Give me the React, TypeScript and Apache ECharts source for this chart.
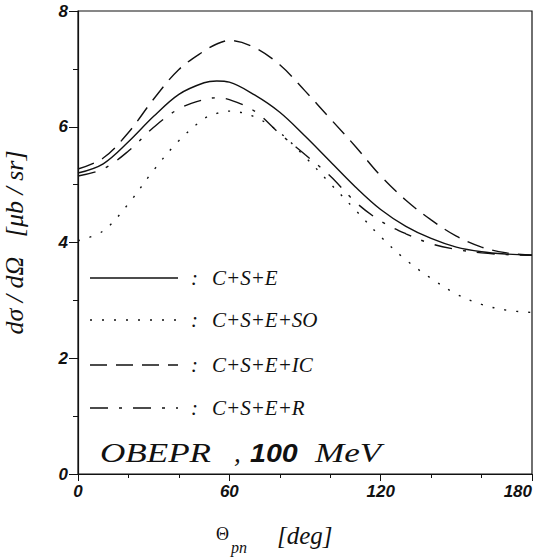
import React, { useEffect, useRef } from "react";
import * as echarts from "echarts";

const angles = [0, 10, 20, 30, 40, 50, 55, 60, 70, 80, 90, 100, 110, 120, 130, 140, 150, 160, 170, 180];
const cse = [5.2, 5.36, 5.74, 6.18, 6.56, 6.76, 6.79, 6.77, 6.55, 6.25, 5.84, 5.4, 4.96, 4.57, 4.28, 4.07, 3.92, 3.84, 3.8, 3.78];
const cseSO = [4.03, 4.2, 4.67, 5.25, 5.76, 6.14, 6.23, 6.27, 6.17, 5.9, 5.48, 5.02, 4.56, 4.1, 3.7, 3.38, 3.11, 2.93, 2.83, 2.79];
const cseIC = [5.27, 5.46, 5.9, 6.48, 6.99, 7.31, 7.43, 7.49, 7.37, 7.07, 6.62, 6.14, 5.66, 5.15, 4.73, 4.39, 4.11, 3.92, 3.82, 3.78];
const cseR = [5.15, 5.27, 5.58, 5.99, 6.31, 6.47, 6.5, 6.47, 6.27, 5.88, 5.52, 5.15, 4.7, 4.37, 4.15, 3.98, 3.88, 3.82, 3.79, 3.78];

const seriesNames = ["C+S+E", "C+S+E+SO", "C+S+E+IC", "C+S+E+R"];
const seriesValues = [cse, cseSO, cseIC, cseR];
const dashes: (string | number[])[] = ["solid", [2, 10], [17, 9], [18, 11, 3, 11]];

const xTicks = [0, 60, 120, 180];
const yTicks = [0, 2, 4, 6, 8];

const INK = "#111";
const SERIF = "Liberation Serif";
const SANS = "Liberation Sans";

function txt(x: number, y: number, text: string, size: number, opts: any = {}) {
  return {
    type: "text",
    x,
    y,
    scaleX: opts.scaleX ?? 1,
    style: {
      text,
      fill: INK,
      fontFamily: opts.family ?? SERIF,
      fontStyle: opts.style ?? "italic",
      fontWeight: opts.weight ?? "normal",
      fontSize: size,
      verticalAlign: "middle",
      align: "left",
    },
  };
}

export default function App() {
  const ref = useRef<HTMLDivElement>(null);
  useEffect(() => {
    if (!ref.current) return;
    const chart = echarts.init(ref.current, undefined, { renderer: "svg" });
    const legendRows = [278, 320, 365, 408];
    const graphic: any[] = [];
    seriesNames.forEach((name, i) => {
      graphic.push({
        type: "line",
        shape: { x1: 90, y1: legendRows[i], x2: 178, y2: legendRows[i] },
        style: { stroke: INK, lineWidth: 1.4, lineDash: dashes[i] === "solid" ? null : dashes[i] },
      });
      graphic.push(txt(191, legendRows[i], ":", 21));
      graphic.push(txt(212, legendRows[i], name, 21));
    });
    graphic.push(
      txt(100, 453, "OBEPR", 27, { scaleX: 1.3 }),
      txt(234, 453, ",", 27),
      txt(250, 453, "100", 26, { family: SANS, weight: "bold", scaleX: 1.1 }),
      txt(315, 453, "MeV", 27, { scaleX: 1.3 }),
      txt(216, 534, "Θ", 18, { style: "normal" }),
      txt(231, 547, "pn", 16),
      txt(277, 535, "[deg]", 25)
    );

    chart.setOption({
      animation: false,
      backgroundColor: "#fff",
      grid: {
        left: 78,
        right: 12,
        top: 11,
        bottom: 85,
        show: true,
        borderColor: INK,
        borderWidth: 1.2,
        outerBoundsMode: "none",
        containLabel: false,
      },
      xAxis: {
        type: "value",
        min: xTicks[0],
        max: xTicks[xTicks.length - 1],
        interval: 60,
        axisLine: { lineStyle: { color: INK, width: 1.2 } },
        axisTick: { show: true, length: 7, lineStyle: { color: INK } },
        minorTick: { show: true, splitNumber: 3, length: 4, lineStyle: { color: INK } },
        splitLine: { show: false },
        axisLabel: {
          color: INK,
          fontFamily: SANS,
          fontStyle: "italic",
          fontWeight: "bold",
          fontSize: 17,
          margin: 9,
          alignMaxLabel: "right",
        },
      },
      yAxis: {
        type: "value",
        min: yTicks[0],
        max: yTicks[yTicks.length - 1],
        interval: 2,
        name: "dσ / dΩ   [μb / sr]",
        nameLocation: "middle",
        nameRotate: 90,
        nameGap: 51,
        nameTextStyle: { color: INK, fontFamily: SERIF, fontStyle: "italic", fontSize: 26 },
        axisLine: { lineStyle: { color: INK, width: 1.2 } },
        axisTick: { show: true, length: 9, lineStyle: { color: INK } },
        minorTick: { show: true, splitNumber: 2, length: 5, lineStyle: { color: INK } },
        splitLine: { show: false },
        axisLabel: { color: INK, fontFamily: SANS, fontStyle: "italic", fontWeight: "bold", fontSize: 17, margin: 10 },
      },
      series: seriesNames.map((name, i) => ({
        name,
        type: "line",
        smooth: 0.35,
        showSymbol: false,
        symbol: "none",
        data: angles.map((a, k) => [a, seriesValues[i][k]]),
        lineStyle: { color: INK, width: 1.4, type: dashes[i] },
      })),
      graphic,
    });
    return () => chart.dispose();
  }, []);
  return (
    <div
      ref={ref}
      style={{ position: "fixed", left: 0, top: 0, width: 544, height: 559, background: "#fff" }}
    />
  );
}
